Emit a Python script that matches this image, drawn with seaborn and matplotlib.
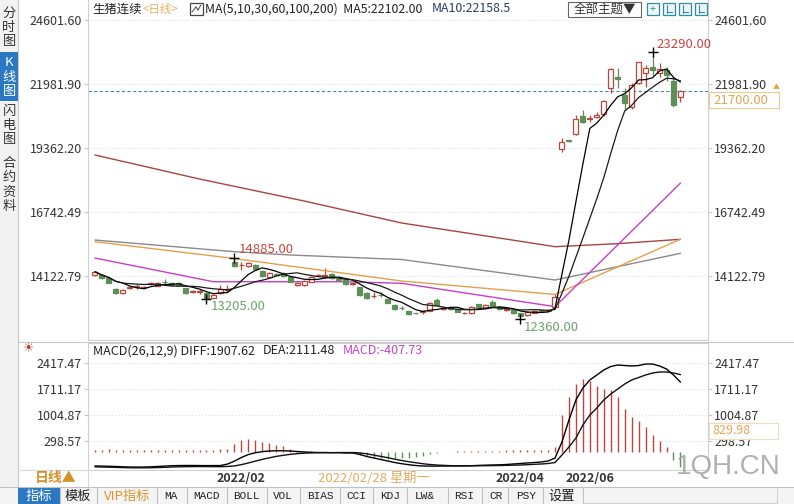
import numpy as np
import pandas as pd
import matplotlib
matplotlib.use("Agg")
import matplotlib.pyplot as plt
from matplotlib.patches import Rectangle
from matplotlib.lines import Line2D
import seaborn as sns

# ---------------- data ----------------
opens = [14176, 14176, 14065, 13591, 13427, 13632, 13690, 13660, 13820, 13738,
         13900, 13836, 13861, 13632, 13468, 13490, 13427, 13240, 13427, 13570,
         14720, 14570, 14544, 14585, 14352, 14106, 14200, 14270, 14106, 13767,
         13767, 13902, 14160, 14140, 14217, 14000, 14000, 13795, 13673, 13452,
         13300, 13370, 13181, 12948, 12820, 12702, 12610, 12660, 12715, 13153,
         12784, 12800, 12772, 12610, 12608, 12976, 12823, 13083, 12878, 12740,
         12743, 12608, 12538, 12633, 12720, 12710, 12880, 19321, 19690, 19947,
         20684, 20560, 20631, 20766, 21817, 22292, 21543, 21040, 22047, 22431,
         22702, 22431, 22566, 22100, 21449]
highs = [14350, 14200, 14080, 13650, 13600, 13720, 13800, 13720, 13900, 13870,
         14000, 13870, 13900, 13660, 13560, 13590, 13460, 13380, 13780, 13780,
         14885, 14700, 14700, 14620, 14380, 14280, 14260, 14300, 14130, 13890,
         13980, 14140, 14230, 14450, 14260, 14040, 14030, 13890, 13700, 13480,
         13480, 13500, 13200, 12970, 12900, 12720, 12640, 12720, 13060, 13230,
         12870, 12840, 12800, 12660, 12900, 13000, 13000, 13150, 12900, 12790,
         12760, 12620, 12700, 12740, 12760, 12750, 13400, 19770, 19720, 20720,
         20930, 20720, 20850, 21350, 22636, 22636, 21817, 22047, 22900, 22770,
         23290, 22841, 22700, 22250, 21748]
lows = [14150, 14020, 13840, 13400, 13400, 13600, 13600, 13620, 13780, 13720,
        13780, 13730, 13750, 13400, 13440, 13400, 13205, 13220, 13400, 13470,
        14500, 14400, 14500, 14380, 14100, 14080, 14140, 14110, 13880, 13740,
        13740, 13880, 14130, 14100, 14020, 13940, 13780, 13770, 13330, 13200,
        13240, 13280, 13020, 12750, 12750, 12550, 12590, 12600, 12690, 12930,
        12760, 12760, 12650, 12560, 12590, 12830, 12790, 12880, 12750, 12690,
        12580, 12360, 12500, 12610, 12680, 12690, 12850, 19230, 19640, 19920,
        20400, 20420, 20600, 20700, 21612, 21817, 20930, 20990, 22000, 21883,
        22360, 22292, 22100, 21050, 21270]
closes = [14311, 14041, 13861, 13452, 13562, 13697, 13700, 13680, 13840, 13836,
          13870, 13760, 13780, 13427, 13533, 13500, 13230, 13357, 13600, 13600,
          14544, 14590, 14655, 14409, 14135, 14246, 14180, 14135, 13902, 13861,
          13943, 14106, 14180, 14150, 14041, 13960, 13807, 13861, 13357, 13222,
          13320, 13350, 13042, 12773, 12810, 12567, 12608, 12670, 13017, 12948,
          12840, 12790, 12674, 12615, 12878, 12853, 12948, 12907, 12771, 12745,
          12608, 12497, 12674, 12715, 12710, 12720, 13288, 19632, 19670, 20561,
          20451, 20570, 20725, 21298, 22595, 22180, 21200, 21950, 22880, 22650,
          22566, 22600, 22350, 21150, 21700]

ma30_idx = [0, 17, 36, 44, 66, 84]
ma30_val = [14870, 13900, 13900, 13836, 12880, 17940]
ma60_idx = [0, 20, 44, 66, 84]
ma60_val = [15540, 14850, 13930, 13380, 15640]
ma100_idx = [0, 20, 28, 44, 66, 84]
ma100_val = [15608, 15130, 14995, 14810, 13971, 15064]
ma200_idx = [0, 15, 30, 44, 58, 66, 75, 84]
ma200_val = [19087, 18105, 17205, 16304, 15690, 15334, 15460, 15637]

diff_vals = [-380, -385, -390, -395, -405, -410, -412, -410, -405, -395,
             -385, -375, -370, -368, -368, -370, -372, -370, -370, -330,
             -250, -150, -70, -20, 10, 27, 35, 35, 27, 14,
             0, -8, -14, -14, -19, -19, -27, -27, -68, -123,
             -164, -205, -246, -287, -319, -347, -369, -382, -385, -385,
             -383, -382, -380, -378, -374, -366, -360, -355, -350, -341,
             -328, -314, -300, -287, -273, -246, -164, 273, 874, 1420,
             1747, 1966, 2102, 2239, 2334, 2375, 2361, 2348, 2361, 2402,
             2402, 2348, 2266, 2102, 1907.62]
dea_vals = [-405, -410, -415, -420, -425, -430, -432, -432, -430, -425,
            -418, -410, -405, -400, -398, -397, -398, -400, -400, -395,
            -380, -345, -300, -250, -200, -160, -120, -90, -65, -45,
            -32, -25, -20, -18, -18, -15, -15, -15, -25, -50,
            -85, -120, -155, -195, -232, -265, -292, -319, -341, -355,
            -365, -372, -376, -378, -378, -376, -374, -372, -369, -365,
            -360, -355, -347, -336, -328, -314, -287, -82, 137, 382,
            737, 1010, 1201, 1420, 1583, 1720, 1856, 1966, 2034, 2102,
            2157, 2184, 2184, 2157, 2111.48]
macd_hist = [60, 65, 70, 65, 60, 55, 55, 60, 60, 60,
             65, 65, 60, 60, 55, 55, 60, 65, 70, 80,
             227, 319, 364, 336, 273, 255, 200, 164, 91,
             30, 20, 15, 10, 10, 5, -10, -20, -40, -80,
             -120, -150, -170, -180, -170, -170, -160, -150, -120,
             -60, -30, -10, 10, 20, 30, 30, 40, 40, 40,
             40, 45, 45, 50, 50, 50, 55, 60, 137,
             1020, 1500, 1865, 1985, 1930, 1800, 1710, 1685, 1500,
             1165, 955, 838, 683, 473, 292, 137, -228, -407.73]

price_ticks = [24601.60, 21981.90, 19362.20, 16742.49, 14122.79]
macd_ticks = [2417.47, 1711.17, 1004.87, 298.57]
month_idx = [21, 61, 71]
month_labels = ["2022/02", "2022/04", "2022/06"]
extreme_idx = [20, 16, 61, 80]
extreme_val = [14885.00, 13205.00, 12360.00, 23290.00]
extreme_kind = ["high", "low", "low", "high"]
last_price = 21700.00
cursor_idx = 40
cursor_label = "2022/02/28 星期一"

# ---------------- style ----------------
sns.set_theme(style="white")
plt.rcParams['font.family'] = ['Noto Sans CJK SC', 'DejaVu Sans']
plt.rcParams['axes.unicode_minus'] = False

W, H = 794, 504
fig = plt.figure(figsize=(W / 100, H / 100), dpi=100)
fig.patch.set_facecolor('white')


def ax_rect(x0, y0, x1, y1):
    return [x0 / W, 1 - y1 / H, (x1 - x0) / W, (y1 - y0) / H]


def frect(x0, y0, x1, y1, **kw):
    fig.add_artist(Rectangle((x0 / W, 1 - y1 / H), (x1 - x0) / W, (y1 - y0) / H,
                             transform=fig.transFigure, **kw))


def fline(x0, y0, x1, y1, **kw):
    fig.add_artist(Line2D([x0 / W, x1 / W], [1 - y0 / H, 1 - y1 / H],
                          transform=fig.transFigure, **kw))


def ftext(x, y, s, **kw):
    fig.text(x / W, 1 - y / H, s, **kw)


RED = '#b9473f'
GREEN = '#5e8f58'
GRID = '#dedede'
SPINE = '#cfcfcf'

ax = fig.add_axes(ax_rect(88, 0, 708, 340))
axm = fig.add_axes(ax_rect(88, 343, 708, 470))
for a in (ax, axm):
    a.set_xlim(-1.0, 87.95)
    a.set_facecolor('white')
    for s in a.spines.values():
        s.set_color(SPINE)
        s.set_linewidth(0.8)
ax.set_ylim(11515.6, 25431.8)
axm.set_ylim(-491.4, 2975.7)
ax.spines['top'].set_visible(False)

# ---------------- candles ----------------
O = np.array(opens, float)
Hh = np.array(highs, float)
L = np.array(lows, float)
C = np.array(closes, float)
idx = np.arange(len(C))
up = C >= O
wick_col = [RED if u else GREEN for u in up]
ax.vlines(idx, L, Hh, colors=wick_col, linewidth=0.9, zorder=2)
ax.bar(idx, np.maximum(np.abs(C - O), 25), bottom=np.minimum(O, C), width=0.72,
       facecolor=['white' if u else GREEN for u in up],
       edgecolor=[RED if u else GREEN for u in up], linewidth=0.9, zorder=3)

# ---------------- moving averages ----------------
rows = []
for name, ix, vals in [("MA200", ma200_idx, ma200_val), ("MA100", ma100_idx, ma100_val),
                       ("MA60", ma60_idx, ma60_val), ("MA30", ma30_idx, ma30_val)]:
    for a, b in zip(ix, vals):
        rows.append({"idx": a, "value": b, "name": name})
ma_long = pd.DataFrame(rows)
ma_pal = {"MA200": '#a8453d', "MA100": '#8a8a8a', "MA60": '#e3a04c', "MA30": '#c63fc6'}
sns.lineplot(data=ma_long, x="idx", y="value", hue="name", palette=ma_pal,
             estimator=None, legend=False, ax=ax, linewidth=1.0, zorder=2.5)

cs = pd.Series(C)
ma_short = pd.DataFrame({"idx": idx,
                         "MA5": cs.rolling(5, min_periods=1).mean(),
                         "MA10": cs.rolling(10, min_periods=1).mean()})
ma_short = ma_short.melt(id_vars="idx", var_name="name", value_name="value")
sns.lineplot(data=ma_short, x="idx", y="value", hue="name",
             palette={"MA5": '#000000', "MA10": '#1a1a1a'},
             estimator=None, legend=False, ax=ax, linewidth=0.9, zorder=4)

# extremes
for i, v, k in zip(extreme_idx, extreme_val, extreme_kind):
    ax.plot(i, v, marker='+', color='black', ms=7, mew=1.0, zorder=5)
    dy = 8 if k == "high" else -8
    ax.annotate(f"{v:.2f}", xy=(i, v), xytext=(4, dy), textcoords='offset pixels',
                ha='left', va='center', fontsize=9.5,
                color='#c9463d' if k == "high" else '#6aa56a')

ax.axhline(last_price, color='#3c8ea0', lw=0.8, ls=(0, (3, 2)), zorder=1.5)

# axes ticks
ax.set_yticks(price_ticks)
ax.set_yticklabels([f"{t:.2f}" for t in price_ticks])
ax.set_xticks([])
ax.tick_params(axis='y', left=True, right=True, labelleft=True, labelright=True,
               length=3, width=0.8, color='#c8c8c8', pad=1.5, labelsize=9,
               labelcolor='#333333')
ax.grid(axis='y', color=GRID, ls=(0, (1, 2)), lw=0.8)
ax.set_xlabel('')
ax.set_ylabel('')

# ---------------- MACD ----------------
hist = np.array(macd_hist, float)
axm.vlines(idx, 0, hist, colors=[RED if h >= 0 else GREEN for h in hist],
           linewidth=1.0, zorder=2)
macd_df = pd.DataFrame({"idx": idx, "DIFF": diff_vals, "DEA": dea_vals})
macd_df = macd_df.melt(id_vars="idx", var_name="name", value_name="value")
sns.lineplot(data=macd_df, x="idx", y="value", hue="name",
             palette={"DIFF": '#000000', "DEA": '#111111'},
             estimator=None, legend=False, ax=axm, linewidth=1.0, zorder=3)
axm.set_yticks(macd_ticks)
axm.set_yticklabels([f"{t:.2f}" for t in macd_ticks])
axm.tick_params(axis='y', left=True, right=True, labelleft=True, labelright=True,
                length=3, width=0.8, color='#c8c8c8', pad=1.5, labelsize=9,
                labelcolor='#333333')
axm.set_xticks(month_idx)
axm.set_xticklabels(month_labels)
axm.tick_params(axis='x', length=0, pad=1.5, labelsize=9, labelcolor='#333333')
for t in axm.get_xticklabels():
    t.set_fontweight('bold')
axm.grid(axis='y', color=GRID, ls=(0, (1, 2)), lw=0.8)
axm.set_xlabel('')
axm.set_ylabel('')
axm.annotate(cursor_label, xy=(cursor_idx, 0), xycoords=('data', 'axes fraction'),
             xytext=(0, -9), textcoords='offset pixels', ha='center', va='center',
             fontsize=9.5, color='#e0aa60')

# ---------------- frame decorations ----------------
# left tab strip
frect(0, 0, 18, 504, facecolor='#f2f2f2', edgecolor='none', zorder=0)
fline(18, 0, 18, 487, color='#c8c8c8', lw=0.8)
frect(0, 52, 18, 101, facecolor='#2b78c2', edgecolor='none')
tabs = [("分时图", 13, '#333333'), ("K线图", 63, 'white'),
        ("闪电图", 111, '#333333'), ("合约资料", 163, '#333333')]
for word, y0, col in tabs:
    for k, ch in enumerate(word):
        ftext(9, y0 + 14.5 * k, ch, ha='center', va='center', fontsize=9.5, color=col)

# title line
ftext(92, 9, "生猪连续", ha='left', va='center', fontsize=8.9, color='#222222')
ftext(143, 9, "<日线>", ha='left', va='center', fontsize=8.3, color='#e8b060')
frect(190, 3, 203, 15, facecolor='white', edgecolor='#444444', lw=0.9)
fline(192, 12, 196, 7, color='#444444', lw=0.7)
fline(196, 7, 198, 10, color='#444444', lw=0.7)
fline(198, 10, 201, 5, color='#444444', lw=0.7)
ftext(205, 9, "MA(5,10,30,60,100,200)  MA5:22102.00", ha='left', va='center',
      fontsize=8.9, color='#222222')
ftext(432, 9, "MA10:22158.5", ha='left', va='center', fontsize=8.9, color='#2c3a66')
frect(568, 2, 641, 17, facecolor='white', edgecolor='#666666', lw=0.8)
ftext(604.5, 9.5, "全部主题▼", ha='center', va='center', fontsize=9, color='#333333')
for x0 in [647, 663, 679, 695]:
    frect(x0, 3, x0 + 12, 15, facecolor='#eef7f8', edgecolor='#2f8fa0', lw=0.9)
ftext(653, 9, "+", ha='center', va='center', fontsize=8, color='#2f8fa0')
for x0 in [663, 679, 695]:
    fline(x0 + 4, 5, x0 + 4, 13, color='#2f8fa0', lw=0.8)
    fline(x0 + 4, 12, x0 + 9, 12, color='#2f8fa0', lw=0.8)

# last price box
frect(709, 92, 779, 108, facecolor='white', edgecolor='#f0c98a', lw=0.8)
ftext(713, 100, f"{last_price:.2f}", ha='left', va='center', fontsize=9.5, color='#e0a555')
ftext(776, 87, "▲", ha='center', va='center', fontsize=5, color='#e8a040')

# macd header
ftext(29, 349, "☀", ha='center', va='center', fontsize=9, color='#b03a2e',
      family=['DejaVu Sans'])
ftext(93, 351, "MACD(26,12,9) DIFF:1907.62", ha='left', va='center', fontsize=9,
      color='#222222')
ftext(263, 351, "DEA:2111.48", ha='left', va='center', fontsize=9, color='#222222')
ftext(343, 351, "MACD:-407.73", ha='left', va='center', fontsize=9, color='#c444c4')
frect(709, 423, 778, 439, facecolor='white', edgecolor='#f1dcb8', lw=0.8, zorder=5)
ftext(712, 431, "829.98", ha='left', va='center', fontsize=9, color='#e0a555', zorder=6)

# separators
fline(18, 341.5, 794, 341.5, color='#c8c8c8', lw=0.8)
fline(18, 470, 88, 470, color='#d8d8d8', lw=0.8)
fline(88, 470, 88, 487, color='#d8d8d8', lw=0.8)
ftext(35, 478, "日线▲", ha='left', va='center', fontsize=10, color='#d4902a',
      fontweight='bold')

# watermark
ftext(728, 467, "1QH.CN", ha='center', va='center', fontsize=20, color='#a8a8a8',
      family=['Liberation Sans'], alpha=0.9)

# bottom tab bar
frect(0, 487, 794, 504, facecolor='#f4f4f4', edgecolor='none')
fline(0, 487, 794, 487, color='#c0c0c0', lw=0.8)
frect(18, 488, 60, 504, facecolor='#2b78c2', edgecolor='none')
tab_items = [("指标", 39, 'white'), ("模板", 78, '#222222'), ("VIP指标", 127, '#d9952e'),
             ("MA", 171, '#222222'), ("MACD", 206, '#222222'), ("BOLL", 246, '#222222'),
             ("VOL", 283, '#222222'), ("BIAS", 320, '#222222'), ("CCI", 356, '#222222'),
             ("KDJ", 390, '#222222'), ("LW&", 425, '#222222'), ("RSI", 464, '#222222'),
             ("CR", 496, '#222222'), ("PSY", 526, '#222222'), ("设置", 562, '#222222')]
for lab, xc, col in tab_items:
    if all(ord(ch) < 128 for ch in lab):
        ftext(xc, 496, lab, ha='center', va='center', fontsize=8, color=col,
              family=['Liberation Mono'])
    else:
        ftext(xc, 496, lab, ha='center', va='center', fontsize=9.5, color=col)
for xs in [60, 97, 157, 187, 227, 267, 300, 340, 373, 407, 448, 482, 508, 543, 583]:
    fline(xs, 488, xs, 504, color='#c0c0c0', lw=0.8)
fline(583, 503, 777, 503, color='#d0d0d0', lw=0.8)
fline(777, 488, 777, 504, color='#d0d0d0', lw=0.8)

fig.savefig("out.png", dpi=100, facecolor='white')
